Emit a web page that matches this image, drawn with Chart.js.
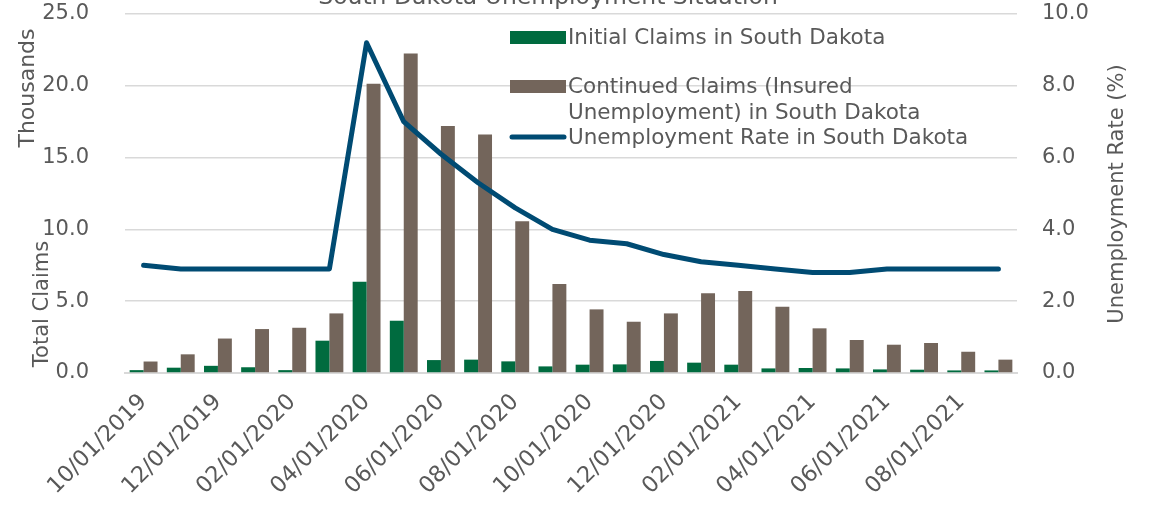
<!DOCTYPE html>
<html>
<head>
<meta charset="utf-8">
<script src="https://cdn.jsdelivr.net/npm/chart.js@4"></script>
<style>
  html, body { margin: 0; padding: 0; background: #fff; }
  #wrap { width: 1150px; height: 510px; }
</style>
</head>
<body>
<div id="wrap"><canvas id="sdChart" width="1150" height="510"></canvas></div>
<script>
// Monthly data, Oct 2019 - Sep 2021 (claims in thousands, rate in %)
const months = ['10/01/2019', '11/01/2019', '12/01/2019', '01/01/2020', '02/01/2020', '03/01/2020',
    '04/01/2020', '05/01/2020', '06/01/2020', '07/01/2020', '08/01/2020', '09/01/2020',
    '10/01/2020', '11/01/2020', '12/01/2020', '01/01/2021', '02/01/2021', '03/01/2021',
    '04/01/2021', '05/01/2021', '06/01/2021', '07/01/2021', '08/01/2021', '09/01/2021'];
const initialClaims = [0.2, 0.37, 0.5, 0.4, 0.2, 2.25, 6.36, 3.64, 0.9, 0.93, 0.81, 0.46,
    0.58, 0.6, 0.84, 0.72, 0.58, 0.32, 0.35, 0.32, 0.25, 0.23, 0.18, 0.18];
const continuedClaims = [0.8, 1.3, 2.4, 3.06, 3.15, 4.15, 20.15, 22.25, 17.2, 16.6, 10.56, 6.2,
    4.43, 3.57, 4.15, 5.55, 5.71, 4.62, 3.11, 2.3, 1.97, 2.09, 1.48, 0.93];
const unemploymentRate = [3.0, 2.9, 2.9, 2.9, 2.9, 2.9, 9.2, 7.0, 6.1, 5.3, 4.6, 4.0,
    3.7, 3.6, 3.3, 3.1, 3.0, 2.9, 2.8, 2.8, 2.9, 2.9, 2.9, 2.9];

const GREEN = '#006b3f';
const GRAY = '#73655b';
const BLUE = '#004b73';
const TEXT = '#595959';
const FONT = "'DejaVu Sans', Verdana, sans-serif";

// Legend, title and axis captions drawn straight onto the canvas
const decorations = {
    id: 'decorations',
    afterDatasetsDraw(chart) {
        const ctx = chart.ctx;
        ctx.save();
        ctx.fillStyle = TEXT;
        ctx.font = '23.5px ' + FONT;
        ctx.textAlign = 'center';
        ctx.textBaseline = 'alphabetic';
        ctx.fillText('South Dakota Unemployment Situation', 548, 4);

        // legend
        ctx.font = '21.5px ' + FONT;
        ctx.textAlign = 'left';
        ctx.textBaseline = 'middle';
        ctx.fillStyle = GREEN;
        ctx.fillRect(510, 31, 56, 13);
        ctx.fillStyle = GRAY;
        ctx.fillRect(510, 80, 56, 13);
        ctx.strokeStyle = BLUE;
        ctx.lineWidth = 5;
        ctx.lineCap = 'round';
        ctx.beginPath();
        ctx.moveTo(512, 137);
        ctx.lineTo(564, 137);
        ctx.stroke();
        ctx.fillStyle = TEXT;
        ctx.fillText('Initial Claims in South Dakota', 568, 38);
        ctx.fillText('Continued Claims (Insured', 568, 87);
        ctx.fillText('Unemployment) in South Dakota', 568, 113);
        ctx.fillText('Unemployment Rate in South Dakota', 568, 138);

        // axis captions
        ctx.textAlign = 'center';
        const vertical = (text, x, y, size) => {
            ctx.save();
            ctx.font = size + 'px ' + FONT;
            ctx.translate(x, y);
            ctx.rotate(-Math.PI / 2);
            ctx.fillText(text, 0, 0);
            ctx.restore();
        };
        vertical('Thousands', 28, 88, 22);
        vertical('Total Claims', 43, 304, 21);
        vertical('Unemployment Rate (%)', 1118, 194, 21);
        ctx.restore();
    }
};

// keep the tick padding from pushing the plot area down
const trimPadding = scale => {
    scale.paddingTop = 11;
    scale.paddingBottom = 11;
};

new Chart(document.getElementById('sdChart'), {
    type: 'bar',
    data: {
        labels: months,
        datasets: [{
            type: 'line',
            label: 'Unemployment Rate in South Dakota',
            data: unemploymentRate,
            yAxisID: 'y1',
            borderColor: BLUE,
            borderWidth: 5,
            borderCapStyle: 'round',
            borderJoinStyle: 'round',
            pointRadius: 0,
            tension: 0,
            order: 0
        },
        {
            label: 'Initial Claims in South Dakota',
            data: initialClaims,
            yAxisID: 'y',
            backgroundColor: GREEN,
            categoryPercentage: 0.75,
            barPercentage: 1.0,
            order: 1
        },
        {
            label: 'Continued Claims (Insured Unemployment) in South Dakota',
            data: continuedClaims,
            yAxisID: 'y',
            backgroundColor: GRAY,
            categoryPercentage: 0.75,
            barPercentage: 1.0,
            order: 1
        }]
    },
    options: {
        responsive: false,
        animation: false,
        layout: { padding: { top: 14, left: 0, right: 0, bottom: 0 } },
        plugins: {
            legend: { display: false },
            title: { display: false },
            tooltip: { enabled: false }
        },
        scales: {
            x: {
                grid: { display: false },
                border: { color: '#d9d9d9', width: 2 },
                ticks: {
                    color: TEXT,
                    font: { family: FONT, size: 22.5 },
                    maxRotation: 45,
                    minRotation: 45,
                    autoSkip: false,
                    padding: 8,
                    callback: function(value, index) {
                        return index % 2 === 0 ? this.getLabelForValue(value) : '';
                    }
                },
                afterFit: scale => { scale.height = 137; }
            },
            y: {
                position: 'left',
                min: 0,
                max: 25,
                grid: { color: '#d9d9d9', lineWidth: 1.5, drawTicks: false },
                border: { display: false },
                ticks: {
                    stepSize: 5,
                    color: TEXT,
                    font: { family: FONT, size: 21 },
                    padding: 36,
                    callback: v => v.toFixed(1)
                },
                afterFit: scale => { scale.width = 125; trimPadding(scale); }
            },
            y1: {
                position: 'right',
                min: 0,
                max: 10,
                grid: { display: false, drawTicks: false },
                border: { display: false },
                ticks: {
                    stepSize: 2,
                    color: TEXT,
                    font: { family: FONT, size: 21 },
                    padding: 25,
                    callback: v => v.toFixed(1)
                },
                afterFit: scale => { scale.width = 133; trimPadding(scale); }
            }
        }
    },
    plugins: [decorations]
});
</script>
</body>
</html>
